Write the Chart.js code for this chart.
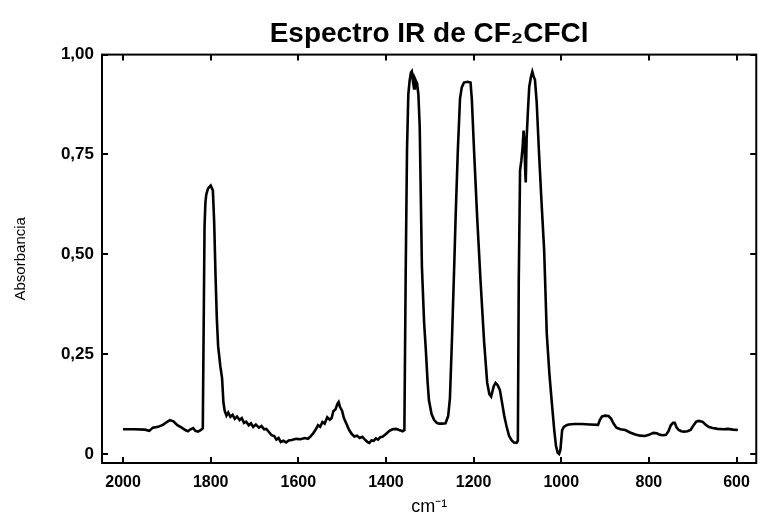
<!DOCTYPE html>
<html>
<head>
<meta charset="utf-8">
<script src="https://cdn.jsdelivr.net/npm/chart.js@4"></script>
<style>
  html, body { margin: 0; padding: 0; background: #fff; }
  #wrap { width: 760px; height: 518px; }
</style>
</head>
<body>
<div id="wrap"><canvas id="irChart" width="760" height="518"></canvas></div>
<script>
// wavenumber (cm-1) and absorbance
const wavenumbers = [
  2000, 1975, 1950, 1940, 1932, 1920, 1909, 1900, 1893, 1885, 1876, 1866, 1858, 1852, 1846, 1840,
  1835, 1829, 1823, 1818, 1814, 1812, 1810, 1806, 1800, 1795, 1792, 1789, 1786, 1783, 1778, 1774,
  1771, 1768, 1764, 1760, 1755, 1750, 1745, 1740, 1734, 1729, 1724, 1719, 1713, 1708, 1703, 1697,
  1690, 1684, 1678, 1673, 1667, 1661, 1655, 1650, 1645, 1640, 1634, 1628, 1622, 1615, 1605, 1595,
  1585, 1578, 1572, 1566, 1560, 1555, 1550, 1545, 1540, 1534, 1528, 1524, 1520, 1515, 1511, 1508,
  1505, 1500, 1496, 1490, 1484, 1478, 1472, 1466, 1460, 1454, 1448, 1442, 1438, 1433, 1428, 1423,
  1418, 1413, 1408, 1400, 1392, 1385, 1377, 1370, 1362, 1358, 1355, 1352, 1349, 1346, 1343, 1341,
  1338, 1336, 1334, 1332, 1329, 1326, 1323, 1321, 1318, 1313, 1309, 1305, 1302, 1296, 1290, 1284,
  1279, 1272, 1264, 1258, 1254, 1249, 1244, 1241, 1236, 1231, 1227, 1222, 1214, 1207, 1204, 1199,
  1192, 1184, 1176, 1169, 1164, 1160, 1154, 1150, 1145, 1140, 1135, 1130, 1125, 1119, 1113, 1108,
  1102, 1099, 1097, 1094, 1091, 1088, 1086, 1084, 1082, 1081, 1079, 1076, 1073, 1069, 1066, 1063,
  1060, 1056, 1051, 1045, 1039, 1033, 1027, 1022, 1016, 1012, 1008, 1005, 1002, 998, 994, 988,
  983, 970, 953, 935, 916, 912, 907, 900, 892, 886, 881, 874, 865, 854, 843, 831,
  820, 809, 800, 790, 782, 775, 768, 761, 755, 750, 745, 741, 737, 732, 726, 720,
  712, 705, 698, 692, 686, 678, 671, 664, 655, 643, 630, 620, 608, 597,
];
const absorbance = [
  0.062, 0.062, 0.061, 0.058, 0.066, 0.068, 0.073, 0.080, 0.085, 0.082, 0.072, 0.066, 0.060, 0.057, 0.062, 0.065,
  0.058, 0.056, 0.060, 0.064, 0.57, 0.63, 0.650, 0.665, 0.672, 0.66, 0.58, 0.45, 0.34, 0.27, 0.22, 0.19,
  0.13, 0.108, 0.096, 0.104, 0.093, 0.098, 0.088, 0.094, 0.085, 0.090, 0.078, 0.081, 0.072, 0.077, 0.068, 0.074,
  0.066, 0.070, 0.062, 0.063, 0.055, 0.047, 0.045, 0.036, 0.040, 0.030, 0.033, 0.029, 0.034, 0.035, 0.038, 0.037,
  0.040, 0.038, 0.044, 0.052, 0.062, 0.072, 0.068, 0.080, 0.076, 0.092, 0.086, 0.090, 0.107, 0.112, 0.125, 0.130,
  0.118, 0.108, 0.090, 0.075, 0.060, 0.050, 0.044, 0.046, 0.040, 0.043, 0.036, 0.030, 0.028, 0.034, 0.033, 0.039,
  0.036, 0.042, 0.043, 0.050, 0.058, 0.062, 0.063, 0.060, 0.057, 0.060, 0.45, 0.76, 0.90, 0.935, 0.955, 0.958,
  0.93, 0.915, 0.94, 0.935, 0.928, 0.90, 0.82, 0.68, 0.47, 0.33, 0.26, 0.18, 0.135, 0.10, 0.085, 0.078,
  0.076, 0.076, 0.077, 0.095, 0.14, 0.30, 0.48, 0.595, 0.76, 0.89, 0.918, 0.93, 0.932, 0.93, 0.887, 0.76,
  0.595, 0.43, 0.28, 0.178, 0.15, 0.144, 0.17, 0.178, 0.172, 0.16, 0.128, 0.095, 0.07, 0.045, 0.034, 0.029,
  0.028, 0.033, 0.43, 0.71, 0.735, 0.77, 0.81, 0.78, 0.70, 0.68, 0.79, 0.86, 0.92, 0.945, 0.957, 0.945,
  0.937, 0.88, 0.76, 0.63, 0.51, 0.30, 0.20, 0.135, 0.06, 0.02, 0.003, 0.0, 0.01, 0.06, 0.068, 0.072,
  0.074, 0.075, 0.075, 0.074, 0.073, 0.085, 0.094, 0.096, 0.095, 0.088, 0.077, 0.066, 0.062, 0.060, 0.054, 0.049,
  0.046, 0.045, 0.048, 0.053, 0.052, 0.048, 0.047, 0.048, 0.058, 0.072, 0.078, 0.078, 0.067, 0.060, 0.057, 0.056,
  0.057, 0.060, 0.072, 0.081, 0.083, 0.081, 0.074, 0.068, 0.065, 0.063, 0.062, 0.063, 0.061, 0.060,
];
const xTicks = [2000, 1800, 1600, 1400, 1200, 1000, 800, 600];
const yTicks = [0, 0.25, 0.5, 0.75, 1];
const yTickLabels = ["0", "0,25", "0,50", "0,75", "1,00"];

const points = wavenumbers.map((w, i) => ({ x: w, y: absorbance[i] }));

// frame + inward ticks on all four sides
const frameTicks = {
  id: "frameTicks",
  afterDraw(chart) {
    const { ctx, chartArea: a, scales } = chart;
    ctx.save();
    ctx.strokeStyle = "#000";
    ctx.lineWidth = 2;
    ctx.strokeRect(a.left, a.top, a.right - a.left, a.bottom - a.top);
    ctx.beginPath();
    xTicks.forEach((v) => {
      const px = Math.round(scales.x.getPixelForValue(v));
      ctx.moveTo(px, a.bottom); ctx.lineTo(px, a.bottom - 6);
      ctx.moveTo(px, a.top); ctx.lineTo(px, a.top + 6);
    });
    yTicks.forEach((v) => {
      const py = Math.round(scales.y.getPixelForValue(v));
      ctx.moveTo(a.left, py); ctx.lineTo(a.left + 6, py);
      ctx.moveTo(a.right, py); ctx.lineTo(a.right - 6, py);
    });
    ctx.stroke();
    ctx.restore();
  },
};

new Chart(document.getElementById("irChart").getContext("2d"), {
  type: "line",
  data: {
    datasets: [
      {
        label: "CF2CFCl",
        data: points,
        borderColor: "#000",
        borderWidth: 2.6,
        pointRadius: 0,
        tension: 0,
        fill: false,
      },
    ],
  },
  options: {
    responsive: false,
    animation: false,
    layout: { padding: { left: 0, right: 2, top: 0, bottom: 0 } },
    plugins: {
      legend: { display: false },
      tooltip: { enabled: false },
      title: {
        display: true,
        fullSize: false,
        text: "Espectro IR de CF\u2082CFCl",
        color: "#000",
        font: { family: "Liberation Sans", size: 28, weight: "bold" },
        padding: { top: 17, bottom: 4 },
      },
    },
    scales: {
      x: {
        type: "linear",
        reverse: true,
        min: 555,
        max: 2048,
        afterBuildTicks: (s) => { s.ticks = xTicks.map((v) => ({ value: v })); },
        afterFit: (s) => { s.height = 55; },
        grid: { display: false, drawTicks: false },
        border: { display: false },
        ticks: {
          autoSkip: false,
          maxRotation: 0,
          padding: 10,
          color: "#000",
          font: { family: "Liberation Sans", size: 16, weight: "bold" },
          callback: (v) => String(v),
        },
        title: {
          display: true,
          text: "cm\u207B\u00B9",
          color: "#000",
          font: { family: "Liberation Sans", size: 18 },
          padding: { top: 0, bottom: 0 },
        },
      },
      y: {
        type: "linear",
        min: -0.0225,
        max: 1,
        afterBuildTicks: (s) => { s.ticks = yTicks.map((v) => ({ value: v })); },
        afterFit: (s) => { s.width = 102; },
        grid: { display: false, drawTicks: false },
        border: { display: false },
        ticks: {
          padding: 8,
          color: "#000",
          font: { family: "Liberation Sans", size: 17, weight: "bold" },
          callback: (v) => yTickLabels[yTicks.indexOf(v)] ?? "",
        },
        title: {
          display: true,
          text: "Absorbancia",
          color: "#000",
          font: { family: "Liberation Sans", size: 15 },
          padding: { top: 12, bottom: 0 },
        },
      },
    },
  },
  plugins: [frameTicks],
});
</script>
</body>
</html>
